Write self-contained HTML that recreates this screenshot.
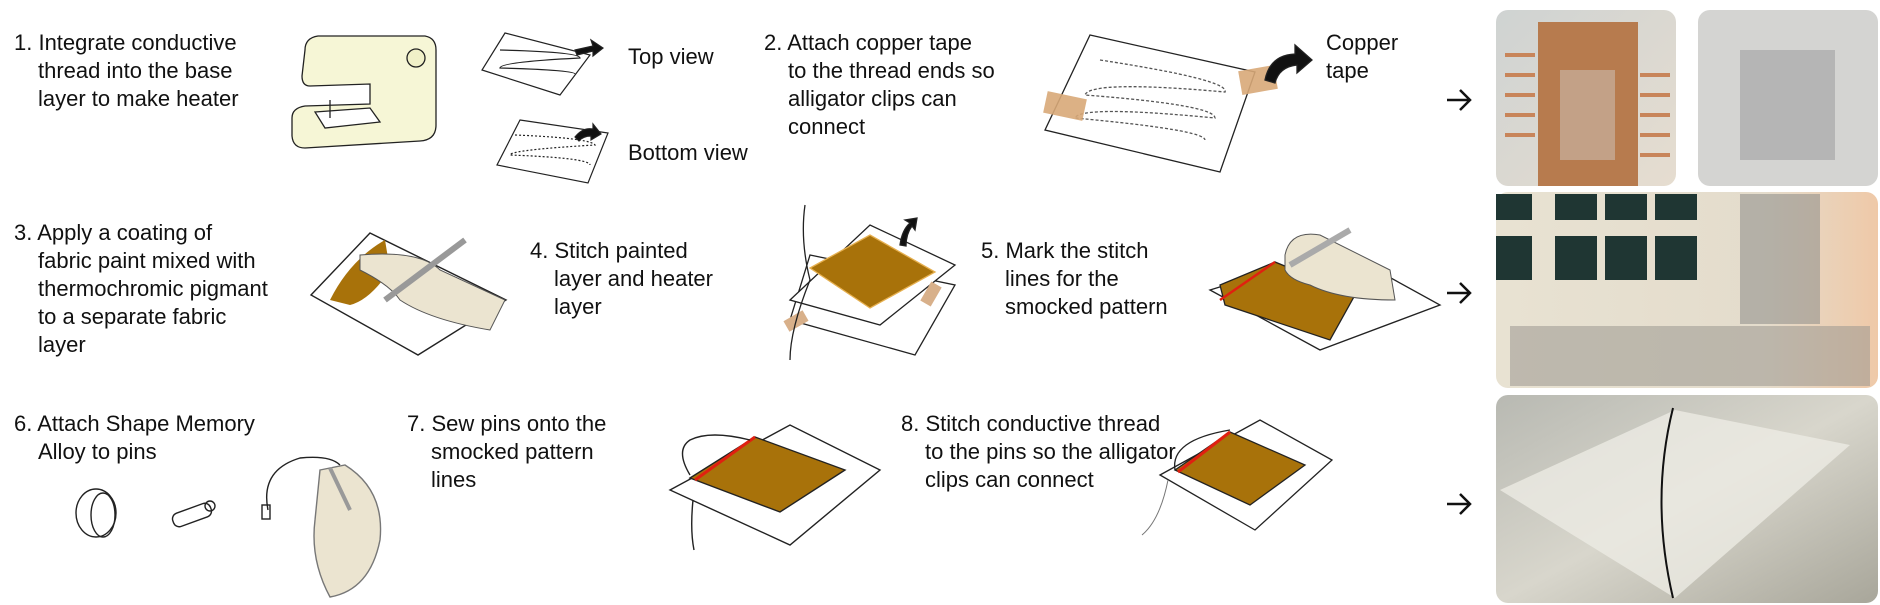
<!DOCTYPE html>
<html><head><meta charset="utf-8"><style>
html,body{margin:0;padding:0;background:#fff;width:1880px;height:605px;overflow:hidden}
svg{display:block}
text{font-family:"Liberation Sans",sans-serif;font-size:22px;fill:#111}
</style></head><body>
<svg width="1880" height="605" viewBox="0 0 1880 605" xmlns="http://www.w3.org/2000/svg">
<defs>
<linearGradient id="p1" x1="0" y1="0" x2="1" y2="1"><stop offset="0" stop-color="#cfd3d2"/><stop offset="1" stop-color="#e6ddd0"/></linearGradient>
<linearGradient id="p3" x1="0" y1="0" x2="1" y2="0"><stop offset="0" stop-color="#e8e2d2"/><stop offset="0.7" stop-color="#e4dccc"/><stop offset="1" stop-color="#efc9a8"/></linearGradient>
<linearGradient id="p4" x1="0" y1="0" x2="1" y2="1"><stop offset="0" stop-color="#b8b9b2"/><stop offset="0.5" stop-color="#d8d6cc"/><stop offset="1" stop-color="#a8a69a"/></linearGradient>
</defs>
<text x="14" y="50">1. Integrate conductive</text>
<text x="38" y="78">thread into the base</text>
<text x="38" y="106">layer to make heater</text>
<text x="628" y="64">Top view</text>
<text x="628" y="160">Bottom view</text>
<text x="764" y="50">2. Attach copper tape</text>
<text x="788" y="78">to the thread ends so</text>
<text x="788" y="106">alligator clips can</text>
<text x="788" y="134">connect</text>
<text x="1326" y="50">Copper</text>
<text x="1326" y="78">tape</text>
<text x="14" y="240">3. Apply a coating of</text>
<text x="38" y="268">fabric paint mixed with</text>
<text x="38" y="296">thermochromic pigmant</text>
<text x="38" y="324">to a separate fabric</text>
<text x="38" y="352">layer</text>
<text x="530" y="258">4. Stitch painted</text>
<text x="554" y="286">layer and heater</text>
<text x="554" y="314">layer</text>
<text x="981" y="258">5. Mark the stitch</text>
<text x="1005" y="286">lines for the</text>
<text x="1005" y="314">smocked pattern</text>
<text x="14" y="431">6. Attach Shape Memory</text>
<text x="38" y="459">Alloy to pins</text>
<text x="407" y="431">7. Sew pins onto the</text>
<text x="431" y="459">smocked pattern</text>
<text x="431" y="487">lines</text>
<text x="901" y="431">8. Stitch conductive thread</text>
<text x="925" y="459">to the pins so the alligator</text>
<text x="925" y="487">clips can connect</text>

<!-- sewing machine -->
<g stroke="#222" stroke-width="1.3">
<path d="M305 50 Q305 38 318 36 L425 36 Q436 38 436 50 L436 125 Q436 140 420 141 L305 148 Q293 148 292 136 L292 118 Q292 108 305 106 L370 104 L370 84 L310 86 Q302 86 302 76 Z" fill="#f6f6d6"/>
<circle cx="416" cy="58" r="9" fill="#f0f0c8"/>
<path d="M315 112 L370 108 L380 122 L325 128 Z" fill="#fff"/>
<line x1="330" y1="100" x2="330" y2="118"/>
</g>
<g stroke="#222" stroke-width="1.2" fill="#fff">
<path d="M505 33 L590 55 L560 95 L482 70 Z"/>
<path d="M500 50 Q580 52 580 58 Q500 62 500 68 Q575 70 575 74" fill="none"/>
<path d="M575 50 l18 -4 l-2 -6 l12 8 l-10 8 l0 -5 l-16 4z" fill="#111"/>
<path d="M520 120 L608 133 L588 183 L497 165 Z"/>
<path d="M515 135 Q590 138 595 145 Q510 150 510 155 Q590 158 590 165" fill="none" stroke-dasharray="2 2"/>
<path d="M575 137 q8 -10 18 -8 l0 -5 l8 10 l-10 6 l0 -4 q-8 0 -12 5z" fill="#111"/>
</g>
<g stroke="#222" stroke-width="1.3" fill="#fff">
<path d="M1090 35 L1255 72 L1220 172 L1045 130 Z"/>
<path d="M1100 60 Q1230 80 1225 92 Q1090 80 1085 95 Q1215 105 1215 118 Q1080 105 1075 118 Q1205 130 1205 140" fill="none" stroke-dasharray="3 2" stroke="#555"/>
<rect x="1045" y="95" width="40" height="22" fill="#d8a878" stroke="none" opacity="0.9" transform="rotate(12 1065 106)"/>
<rect x="1240" y="68" width="36" height="24" fill="#d8a878" stroke="none" opacity="0.9" transform="rotate(-10 1258 80)"/>
<path d="M1265 80 Q1270 55 1295 54 l0 -9 l17 15 l-15 13 l0 -8 q-18 2 -22 18z" fill="#111"/>
</g>
<g stroke="#222" stroke-width="1.4">
<path d="M370 233 L506 300 L418 355 L311 295 Z" fill="#fff"/>
<path d="M330 300 Q350 260 385 240 L390 270 Q370 300 350 305 Z" fill="#a8720a" stroke="none"/>
<path d="M360 255 Q420 250 440 270 L505 300 L490 330 Q430 320 400 300 Q390 285 360 270Z" fill="#ebe4d0" stroke="#555" stroke-width="1"/>
<path d="M385 300 L465 240" stroke="#999" stroke-width="6"/>
</g>
<g stroke="#222" stroke-width="1.3">
<path d="M810 255 L955 285 L915 355 L790 320 Z" fill="#fff"/>
<path d="M790 300 L870 225 L955 265 L880 325 Z" fill="#fff"/>
<path d="M810 268 L870 235 L935 272 L870 308 Z" fill="#a8720a" stroke="#e6b050"/>
<rect x="785" y="315" width="22" height="12" fill="#d8b08a" stroke="none" transform="rotate(-30 796 321)"/>
<rect x="920" y="288" width="22" height="12" fill="#d8b08a" stroke="none" transform="rotate(-60 931 294)"/>
<path d="M805 205 Q800 240 810 280 Q790 330 790 360" fill="none"/>
<path d="M900 245 q2 -15 10 -22 l-5 -3 l12 -2 l-2 12 l-3 -4 q-6 8 -6 20z" fill="#111"/>
</g>
<g stroke="#222" stroke-width="1.3">
<path d="M1210 290 L1340 250 L1440 305 L1320 350 Z" fill="#fff"/>
<path d="M1220 285 L1275 262 L1355 295 L1330 340 L1225 305 Z" fill="#a8720a"/>
<path d="M1220 300 L1275 262" stroke="#e02010" stroke-width="2.5"/>
<path d="M1285 255 Q1290 230 1320 235 L1390 270 L1395 300 Q1340 300 1310 285 Q1290 280 1285 270Z" fill="#ebe4d0" stroke="#555" stroke-width="1"/>
<path d="M1290 265 L1350 230" stroke="#aaa" stroke-width="6"/>
</g>
<g stroke="#222" stroke-width="1.4" fill="none">
<ellipse cx="96" cy="513" rx="20" ry="24"/>
<ellipse cx="103" cy="515" rx="12" ry="22"/>
<rect x="172" y="508" width="40" height="14" rx="6" transform="rotate(-20 192 515)"/>
<circle cx="210" cy="506" r="5"/>
<path d="M268 510 Q260 470 300 458 Q330 455 340 465"/>
<rect x="262" y="505" width="8" height="14"/>
<path d="M320 470 L345 465 Q385 490 380 540 Q370 590 330 597 Q310 560 315 520 Z" fill="#ebe4d0" stroke="#777"/>
<path d="M330 468 L350 510" stroke="#999" stroke-width="4"/>
</g>
<g stroke="#222" stroke-width="1.4">
<path d="M670 490 L790 425 L880 470 L790 545 Z" fill="#fff"/>
<path d="M690 478 L755 437 L845 470 L780 512 Z" fill="#a8720a"/>
<path d="M695 480 L755 437" stroke="#e02010" stroke-width="3"/>
<path d="M690 475 Q675 450 690 440 Q710 430 750 440" fill="none"/>
<path d="M693 500 Q690 530 694 550" fill="none"/>
</g>
<g stroke="#222" stroke-width="1.3">
<path d="M1160 475 L1260 420 L1332 460 L1255 530 Z" fill="#fff"/>
<path d="M1175 470 L1230 432 L1305 465 L1250 505 Z" fill="#a8720a"/>
<path d="M1178 472 L1230 432" stroke="#e02010" stroke-width="3"/>
<path d="M1168 480 Q1160 520 1142 535" fill="none" stroke="#777" stroke-width="1"/>
<path d="M1175 470 Q1170 440 1230 430" fill="none"/>
</g>
<g stroke="#111" stroke-width="2.5" fill="none">
<path d="M1447 100 H1470 M1460 90 L1470 100 L1460 110"/>
<path d="M1447 293 H1470 M1460 283 L1470 293 L1460 303"/>
<path d="M1447 504 H1470 M1460 494 L1470 504 L1460 514"/>
</g>
<!-- photos -->
<rect x="1496" y="10" width="180" height="176" rx="12" fill="url(#p1)"/>
<rect x="1538" y="22" width="100" height="164" fill="#b77b4e"/>
<g stroke="#c8855a" stroke-width="4"><line x1="1505" y1="55" x2="1535" y2="55"/><line x1="1505" y1="75" x2="1535" y2="75"/><line x1="1505" y1="95" x2="1535" y2="95"/><line x1="1505" y1="115" x2="1535" y2="115"/><line x1="1505" y1="135" x2="1535" y2="135"/><line x1="1640" y1="75" x2="1670" y2="75"/><line x1="1640" y1="95" x2="1670" y2="95"/><line x1="1640" y1="115" x2="1670" y2="115"/><line x1="1640" y1="135" x2="1670" y2="135"/><line x1="1640" y1="155" x2="1670" y2="155"/></g>
<rect x="1560" y="70" width="55" height="90" fill="#d0c8c0" opacity="0.5"/>
<rect x="1698" y="10" width="180" height="176" rx="12" fill="#d4d4d2"/>
<rect x="1740" y="50" width="95" height="110" fill="#b5b5b5"/>
<rect x="1496" y="192" width="382" height="196" rx="12" fill="url(#p3)"/>
<g fill="#1f3633"><rect x="1496" y="194" width="36" height="26"/><rect x="1555" y="194" width="42" height="26"/><rect x="1605" y="194" width="42" height="26"/><rect x="1655" y="194" width="42" height="26"/><rect x="1496" y="236" width="36" height="44"/><rect x="1555" y="236" width="42" height="44"/><rect x="1605" y="236" width="42" height="44"/><rect x="1655" y="236" width="42" height="44"/></g>
<rect x="1740" y="194" width="80" height="130" fill="#8c8c88" opacity="0.55"/>
<rect x="1510" y="326" width="360" height="60" fill="#9a9890" opacity="0.55"/>
<rect x="1496" y="395" width="382" height="208" rx="12" fill="url(#p4)"/>
<path d="M1500 490 L1675 410 L1850 445 L1675 598 Z" fill="#ecebe3" opacity="0.8"/>
<path d="M1673 408 Q1650 500 1673 598" stroke="#111" stroke-width="2" fill="none"/>
</svg>
</body></html>
